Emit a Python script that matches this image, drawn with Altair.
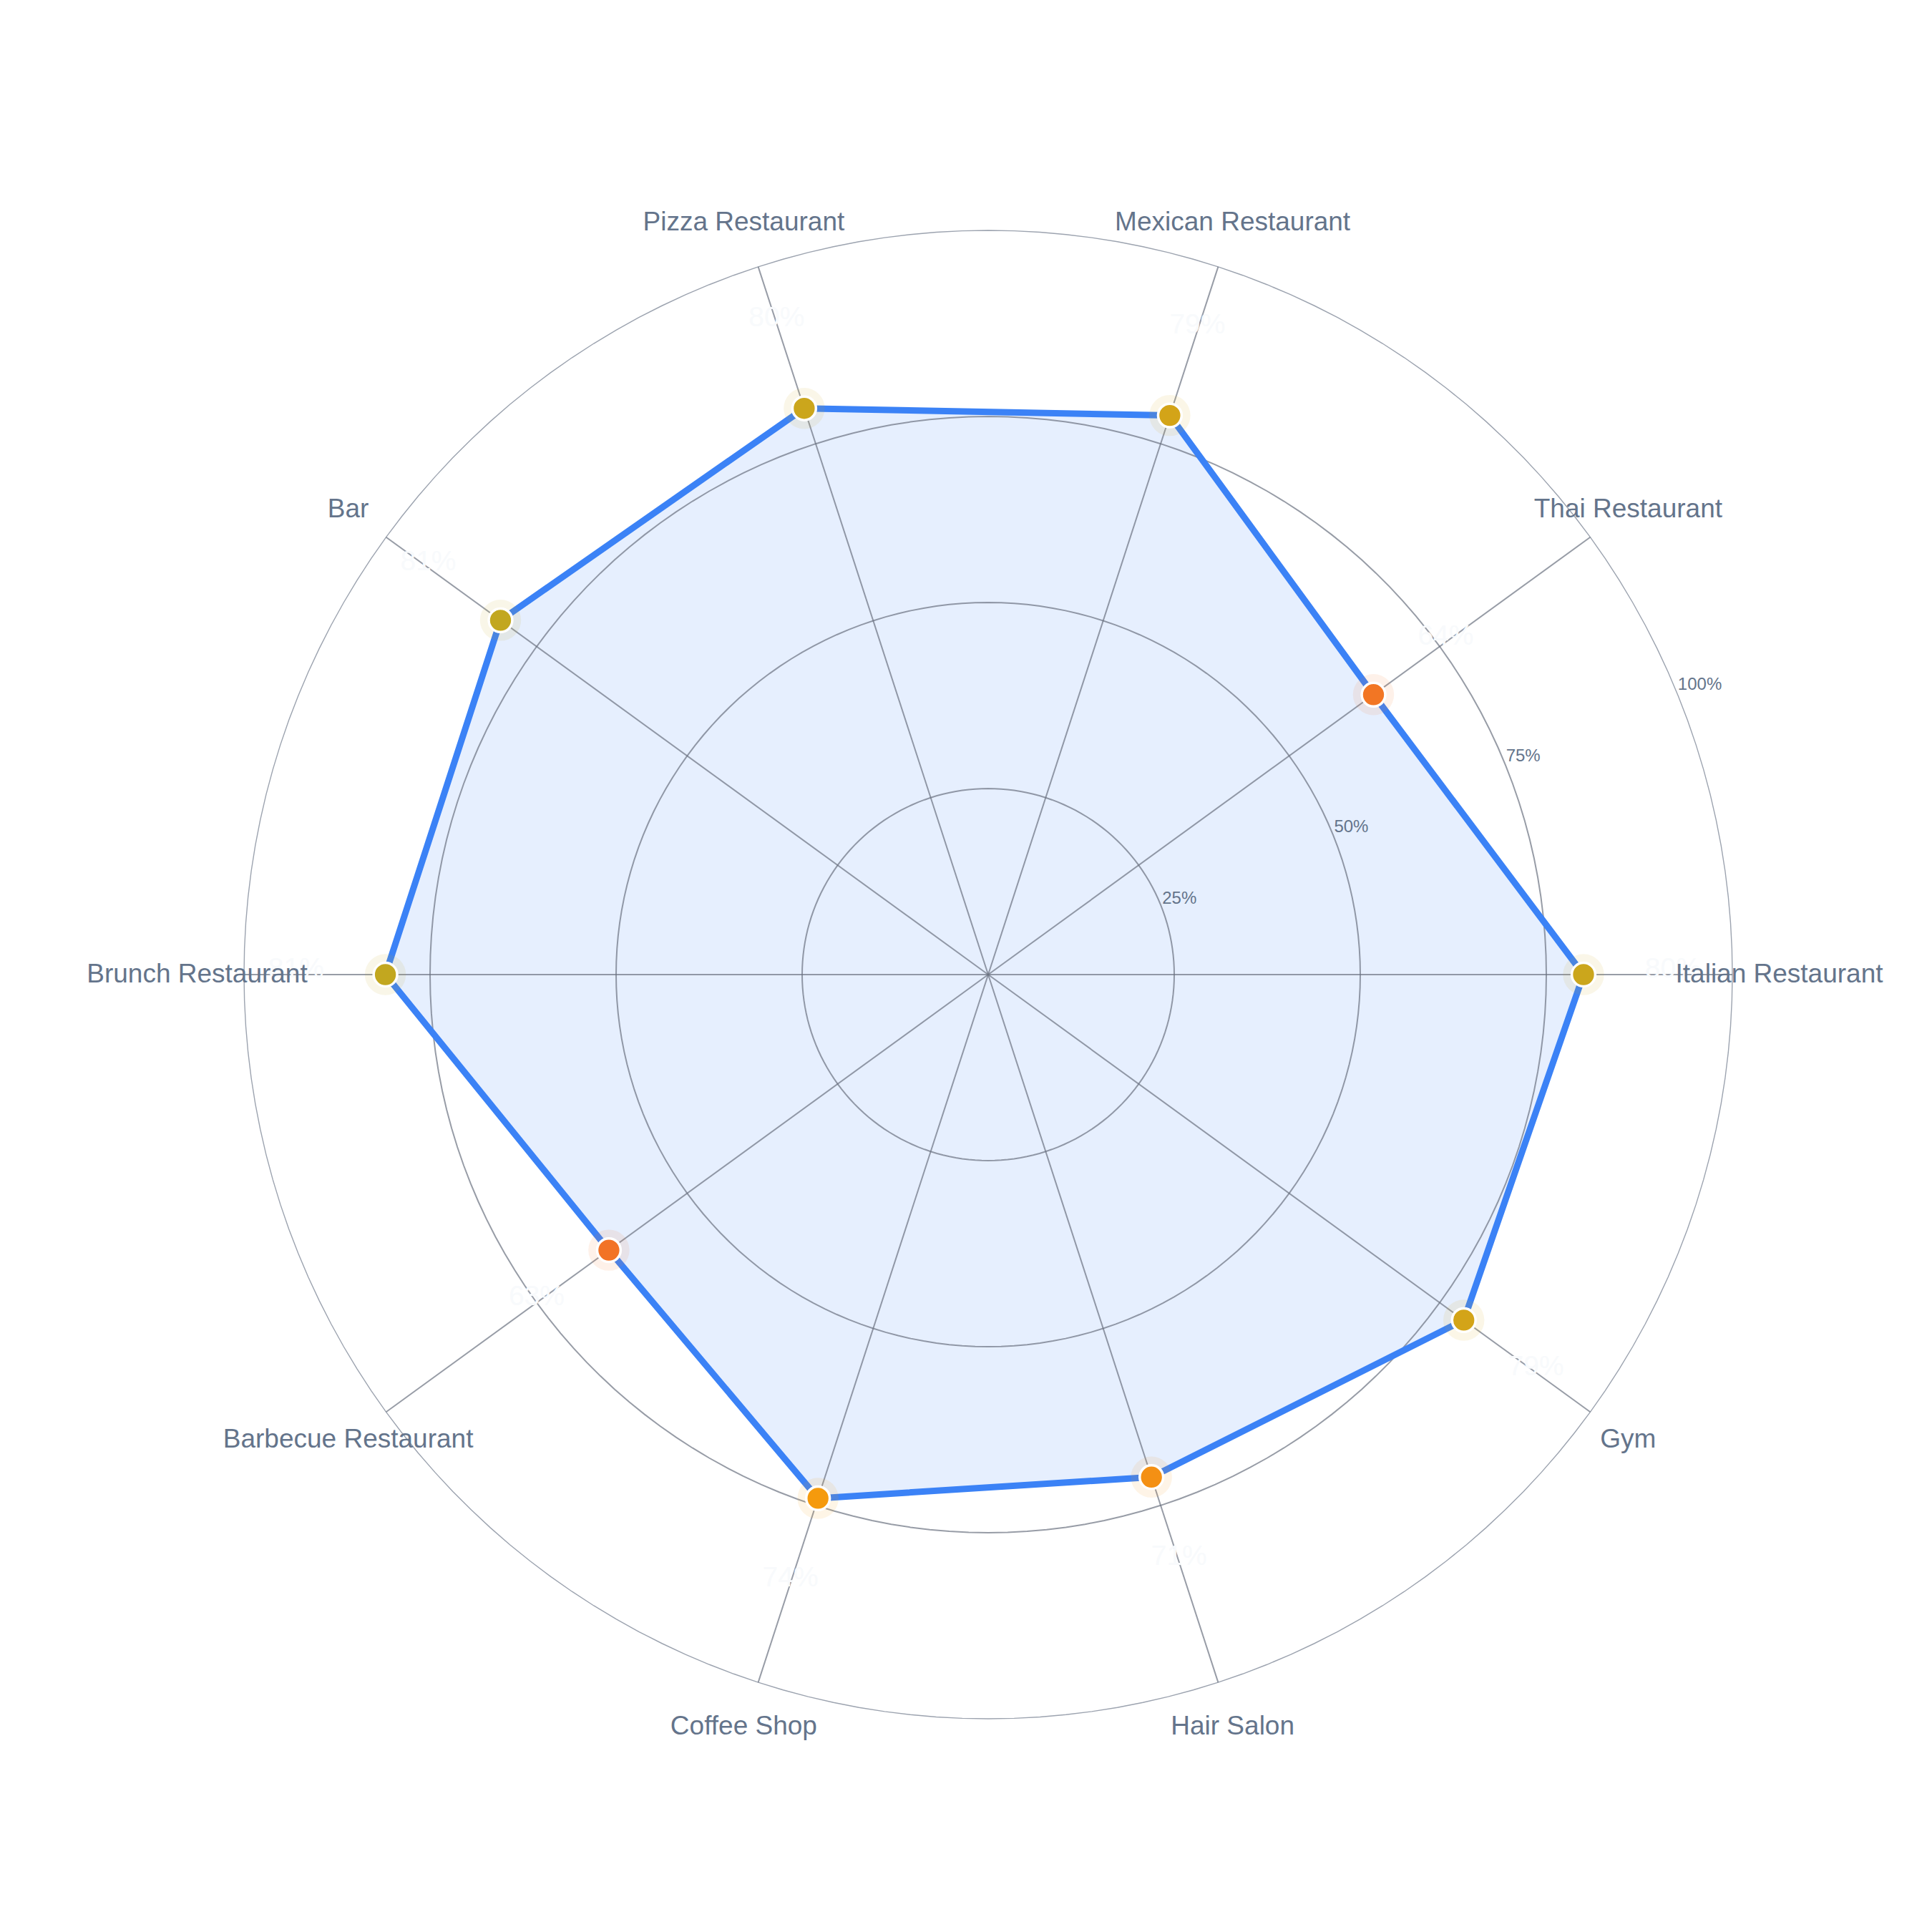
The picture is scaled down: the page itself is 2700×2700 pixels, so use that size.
import altair as alt
import pandas as pd

# ---- data ----
categories = ["Italian Restaurant", "Thai Restaurant", "Mexican Restaurant",
              "Pizza Restaurant", "Bar", "Brunch Restaurant",
              "Barbecue Restaurant", "Coffee Shop", "Hair Salon", "Gym"]
values = [80, 64, 79, 80, 81, 81, 63, 74, 71, 79]
ring_ticks = [25, 50, 75, 100]
tick_labels = ["25%", "50%", "75%", "100%"]

n = len(categories)
df = pd.DataFrame({"category": categories, "value": values, "idx": list(range(n))})
rings_df = pd.DataFrame({"ring": ring_ticks, "label": tick_labels})
rmax = ring_ticks[-1]

# ---- geometry ----
K = 10.4                # px per unit
W = H = 2684
cx_off, cy_off = 1373, 1354
xdom = [-cx_off / K, (W - cx_off) / K]
ydom = [-(H - cy_off) / K, cy_off / K]
xs = alt.Scale(domain=xdom, nice=False, zero=False)
ys = alt.Scale(domain=ydom, nice=False, zero=False)
FONT = "Liberation Sans"
LABEL_COLOR = "#64748b"


def X(f):
    return alt.X(f"{f}:Q", scale=xs, axis=None)


def Y(f):
    return alt.Y(f"{f}:Q", scale=ys, axis=None)


color_scale = alt.Scale(domain=[50, 75, 100],
                        range=["#ef4444", "#f59e0b", "#22c55e"],
                        interpolate="rgb")

base = alt.Chart(df).transform_calculate(theta=f"datum.idx*2*PI/{n}")

# rings
ring_base = alt.Chart(alt.sequence(0, 362, 2, as_="deg")).transform_calculate(
    ring=f"{ring_ticks}"
).transform_flatten(["ring"]).transform_calculate(
    gx="datum.ring*cos(datum.deg*PI/180)",
    gy="datum.ring*sin(datum.deg*PI/180)",
)
inner_rings = ring_base.transform_filter(f"datum.ring < {rmax}").mark_line(
    color="#6b7280", strokeWidth=2, opacity=0.7
).encode(x=X("gx"), y=Y("gy"), detail="ring:N", order="deg:Q")
outer_ring = ring_base.transform_filter(f"datum.ring == {rmax}").mark_line(
    color="#9ca3af", strokeWidth=1.4
).encode(x=X("gx"), y=Y("gy"), detail="ring:N", order="deg:Q")

# spokes
spokes = base.transform_calculate(
    zx="0", zy="0",
    ex=f"{rmax}*cos(datum.theta)", ey=f"{rmax}*sin(datum.theta)"
).mark_rule(color="#6b7280", strokeWidth=2, opacity=0.7).encode(
    x=X("zx"), y=Y("zy"), x2="ex:Q", y2="ey:Q"
)

# polygon
poly_base = base.transform_calculate(
    px="datum.value*cos(datum.theta)", py="datum.value*sin(datum.theta)"
)
poly_fill = poly_base.mark_line(
    interpolate="linear-closed", fill="#3b82f6", fillOpacity=0.13,
    strokeOpacity=0, strokeWidth=0
).encode(x=X("px"), y=Y("py"), order="idx:Q")
poly_line = poly_base.mark_line(
    interpolate="linear-closed", color="#3b82f6", strokeWidth=9,
    strokeJoin="round"
).encode(x=X("px"), y=Y("py"), order="idx:Q")

halo = poly_base.mark_circle(size=3300, opacity=0.1).encode(
    x=X("px"), y=Y("py"), color=alt.Color("value:Q", scale=color_scale, legend=None)
)
dots = poly_base.mark_circle(size=1080, opacity=1, stroke="white", strokeWidth=3.5).encode(
    x=X("px"), y=Y("py"), color=alt.Color("value:Q", scale=color_scale, legend=None)
)

# value labels (near-white)
value_labels = base.transform_calculate(
    vx="(datum.value+12)*cos(datum.theta)", vy="(datum.value+12)*sin(datum.theta)",
    vt="datum.value + '%'"
).mark_text(font=FONT, fontSize=39, color="#f8fafc", align="center",
            baseline="middle", dy=-8).encode(x=X("vx"), y=Y("vy"), text="vt:N")

# category labels
cat_labels = base.transform_calculate(
    lx="106.3*cos(datum.theta)", ly="106.3*sin(datum.theta)"
).mark_text(font=FONT, fontSize=37, color=LABEL_COLOR, align="center",
            baseline="middle").encode(x=X("lx"), y=Y("ly"), text="category:N")

# ring tick labels
tick_text = alt.Chart(rings_df).transform_calculate(
    tx="datum.ring*cos(PI/8)", ty="datum.ring*sin(PI/8)"
).mark_text(font=FONT, fontSize=24, color=LABEL_COLOR, align="left",
            baseline="alphabetic", dx=3).encode(x=X("tx"), y=Y("ty"), text="label:N")

chart = alt.layer(
    poly_fill, inner_rings, outer_ring, spokes, poly_line, halo, dots,
    value_labels, cat_labels, tick_text
).properties(
    width=W, height=H, padding=0,
    autosize=alt.AutoSizeParams(type="none"),
    background="white"
).configure_view(stroke=None)

chart.save("out.html", embed_options={"renderer": "svg", "actions": False})
